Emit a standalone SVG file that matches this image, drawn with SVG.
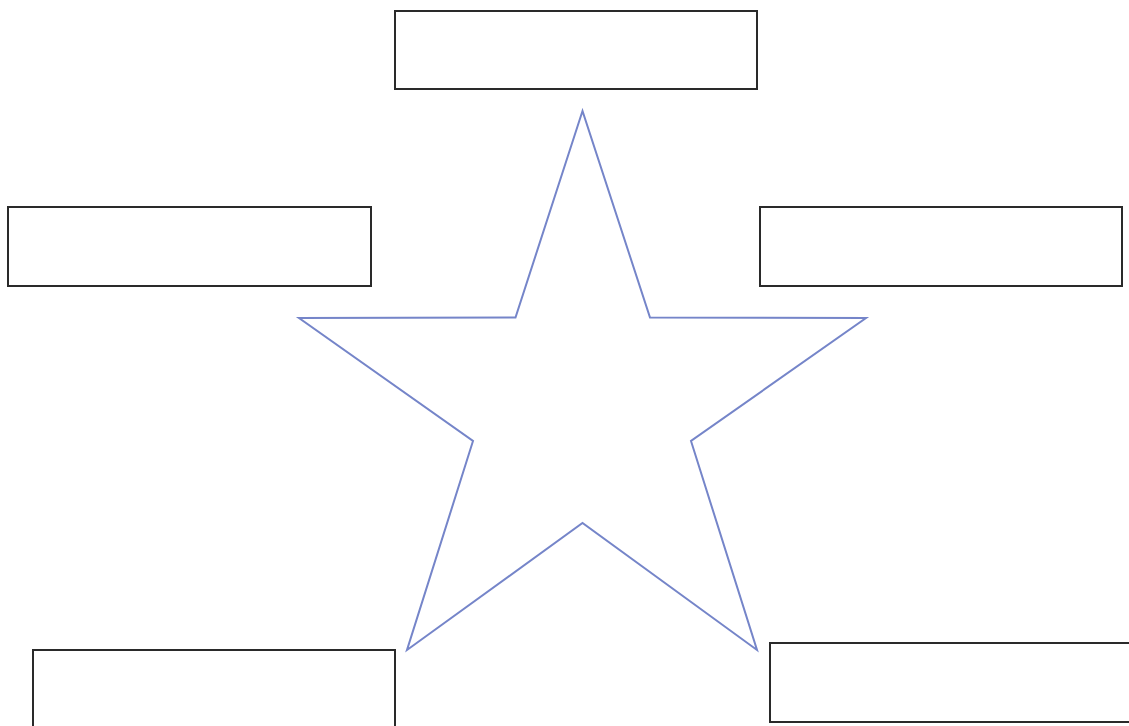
<svg xmlns="http://www.w3.org/2000/svg" width="1129" height="726" viewBox="0 0 1129 726">
<style>
.box{fill:#fff;stroke:#2a2a2a;stroke-width:2}
.star{fill:none;stroke:#7585c9;stroke-width:2;stroke-linejoin:miter}
</style>
<rect width="1129" height="726" fill="#fff"/>
<g id="star">
<polygon class="star" points="582.5,111 515.5,317.5 299,318 473,441 407,650 582.5,523 757,650 691,441 866,318 650,317.5"/>
</g>
<g id="box-top"><rect class="box" x="395" y="11" width="362" height="78"/></g>
<g id="box-left"><rect class="box" x="8" y="207" width="363" height="79"/></g>
<g id="box-right"><rect class="box" x="760" y="207" width="362" height="79"/></g>
<g id="box-bottom-left"><rect class="box" x="33" y="650" width="362" height="80"/></g>
<g id="box-bottom-right"><rect class="box" x="770" y="643" width="360" height="79"/></g>
<g id="connectors"></g>
</svg>
